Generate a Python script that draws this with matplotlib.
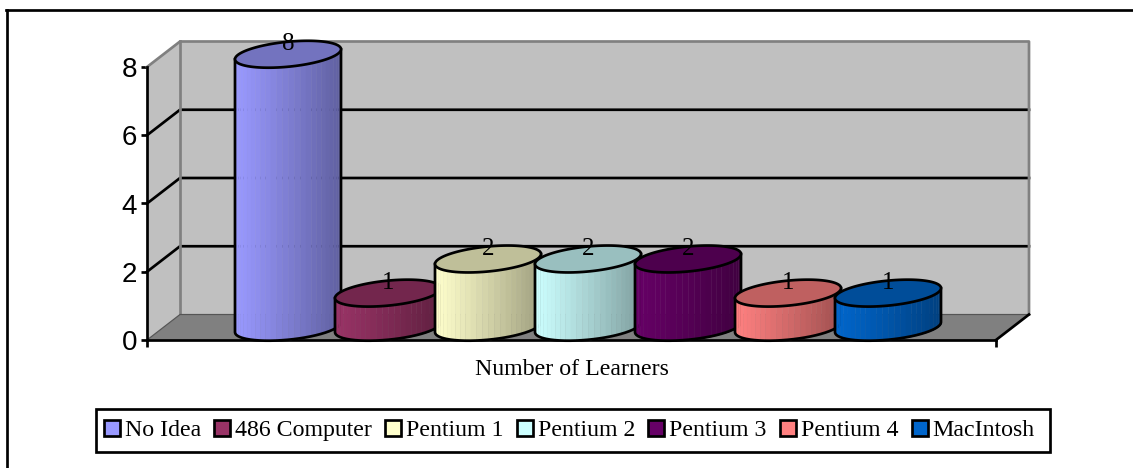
import numpy as np
import matplotlib
matplotlib.use("Agg")
import matplotlib.pyplot as plt
from matplotlib.lines import Line2D
from matplotlib.patches import Patch, Polygon, Rectangle
from matplotlib.colors import to_rgb

W, H = 1133, 468

series_names = ["No Idea", "486 Computer", "Pentium 1", "Pentium 2", "Pentium 3", "Pentium 4", "MacIntosh"]
learners = [8, 1, 2, 2, 2, 1, 1]
series_colors = ["#9999FF", "#993366", "#FFFFCC", "#CCFFFF", "#660066", "#FF8080", "#0066CC"]
y_ticks = [0, 2, 4, 6, 8]
x_title = "Number of Learners"

plt.rcParams["font.family"] = "Liberation Serif"

# plot box in pixels, the fake 3d stuff hangs off this
LEFT, RIGHT, TOP, BOTTOM = 147, 996, 67, 340
BAR = 100.0
fig = plt.figure(figsize=(W / 100, H / 100), dpi=100)
ax = fig.add_axes([LEFT / W, 1 - BOTTOM / H, (RIGHT - LEFT) / W, (BOTTOM - TOP) / H])
half_span = (RIGHT - LEFT) / BAR / 2
ax.set_xlim(-half_span, half_span)
ax.set_ylim(0, 8)
unit = (BOTTOM - TOP) / 8.0

DX = 33 / BAR
DY = 25.5 / unit
GRAY = "#C0C0C0"
DARK = "#808080"
PX = 0.72  # one pixel in points
THICK = 2.7 * PX

# walls and floor
ax.add_patch(Polygon([(-half_span, 0), (-half_span + DX, DY), (-half_span + DX, 8 + DY), (-half_span, 8)],
                     closed=True, fc=GRAY, ec="none", clip_on=False, zorder=1))
ax.add_patch(Polygon([(-half_span + DX, DY), (half_span + DX, DY), (half_span + DX, 8 + DY), (-half_span + DX, 8 + DY)],
                     closed=True, fc=GRAY, ec="none", clip_on=False, zorder=1))
ax.add_patch(Polygon([(-half_span, 0), (half_span, 0), (half_span + DX, DY), (-half_span + DX, DY)],
                     closed=True, fc=DARK, ec="none", clip_on=False, zorder=1))

# gridlines on the back and side wall
for t in y_ticks[1:-1]:
    ax.plot([-half_span, -half_span + DX, half_span + DX], [t, t + DY, t + DY], color="black", lw=THICK, clip_on=False, zorder=2)
ax.plot([-half_span, -half_span + DX, half_span + DX, half_span + DX], [8, 8 + DY, 8 + DY, DY], color=DARK, lw=THICK, clip_on=False, zorder=2)
ax.plot([-half_span + DX, -half_span + DX], [DY, 8 + DY], color=DARK, lw=THICK, clip_on=False, zorder=2)
ax.plot([-half_span, -half_span + DX, half_span + DX], [0, DY, DY], color="#555555", lw=1.2 * PX, clip_on=False, zorder=2)
ax.plot([half_span, half_span + DX], [0, DY], color="black", lw=THICK, clip_on=False, zorder=2)


def shade(color, f):
    return tuple(c * f for c in to_rgb(color))


# cylinders, later ones sit on top of the earlier ones
RX = 0.53
RY = 12.5 / unit
TILT = 5 / unit
z = 5
for i, (v, c) in enumerate(zip(learners, series_colors)):
    cx = i - 3 + DX / 2
    cy = DY / 2
    s = np.cos(np.linspace(np.pi, 2 * np.pi, 29))
    xs = cx + RX * s
    low = -np.sqrt(np.clip(1 - s ** 2, 0, 1)) * RY + TILT * s
    for k in range(len(s) - 1):
        f = 1.0 - 0.38 * (s[k] + 1) / 2
        ax.fill_between([xs[k], xs[k + 1]], [cy + low[k], cy + low[k + 1]],
                        [cy + v + low[k], cy + v + low[k + 1]],
                        color=shade(c, f), lw=0.3, clip_on=False, zorder=z)
    # outline of the side
    ax.plot(np.r_[xs[0], xs, xs[-1]], np.r_[cy + v + low[0], cy + low, cy + v + low[-1]],
            color="black", lw=THICK, clip_on=False, zorder=z + 1)
    t = np.linspace(0, 2 * np.pi, 120)
    ax.fill(cx + RX * np.cos(t), cy + v + RY * np.sin(t) + TILT * np.cos(t), fc=shade(c, 0.75), ec="black",
            lw=THICK, clip_on=False, zorder=z + 1)
    ax.text(cx, cy + v + 10 / unit, str(v), ha="center", va="center", fontsize=18, color="black",
            clip_on=False, zorder=40)
    z += 2

# axes
for side in ["top", "right"]:
    ax.spines[side].set_visible(False)
for side in ["left", "bottom"]:
    ax.spines[side].set_linewidth(THICK)
    ax.spines[side].set_zorder(3)
ax.patch.set_visible(False)
ax.set_yticks(y_ticks)
ax.set_yticklabels([str(t) for t in y_ticks], family="Liberation Sans", fontsize=20)
ax.tick_params(axis="y", length=4, width=THICK, pad=3)
ax.set_xticks([-half_span, half_span])
ax.set_xticklabels(["", ""])
ax.tick_params(axis="x", length=5, width=THICK)
ax.set_xlabel(x_title, fontsize=17.2, labelpad=5.5)

# legend box is drawn by hand, the right margin is wider than the left one
fig.add_artist(Rectangle((96 / W, 1 - 452 / H), (1050 - 96) / W, (452 - 409) / H, transform=fig.transFigure,
                         fc="white", ec="black", lw=THICK))
handles = [Patch(fc=c, ec="black", lw=THICK, label=n) for c, n in zip(series_colors, series_names)]
leg = fig.legend(handles=handles, ncol=7, loc="lower left", bbox_to_anchor=(96 / W, 1 - 449 / H),
                 fontsize=17.2, frameon=False,
                 handlelength=0.67, handleheight=0.67, handletextpad=0.21, columnspacing=0.55,
                 borderpad=0.32, borderaxespad=0)

# outer frame, only top and left show up in the crop
fig.add_artist(Line2D([7 / W, 7 / W], [0, 1 - 10 / H], color="black", lw=THICK))
fig.add_artist(Line2D([6 / W, 1], [1 - 10 / H, 1 - 10 / H], color="black", lw=THICK))

fig.savefig("out.png", dpi=100)
